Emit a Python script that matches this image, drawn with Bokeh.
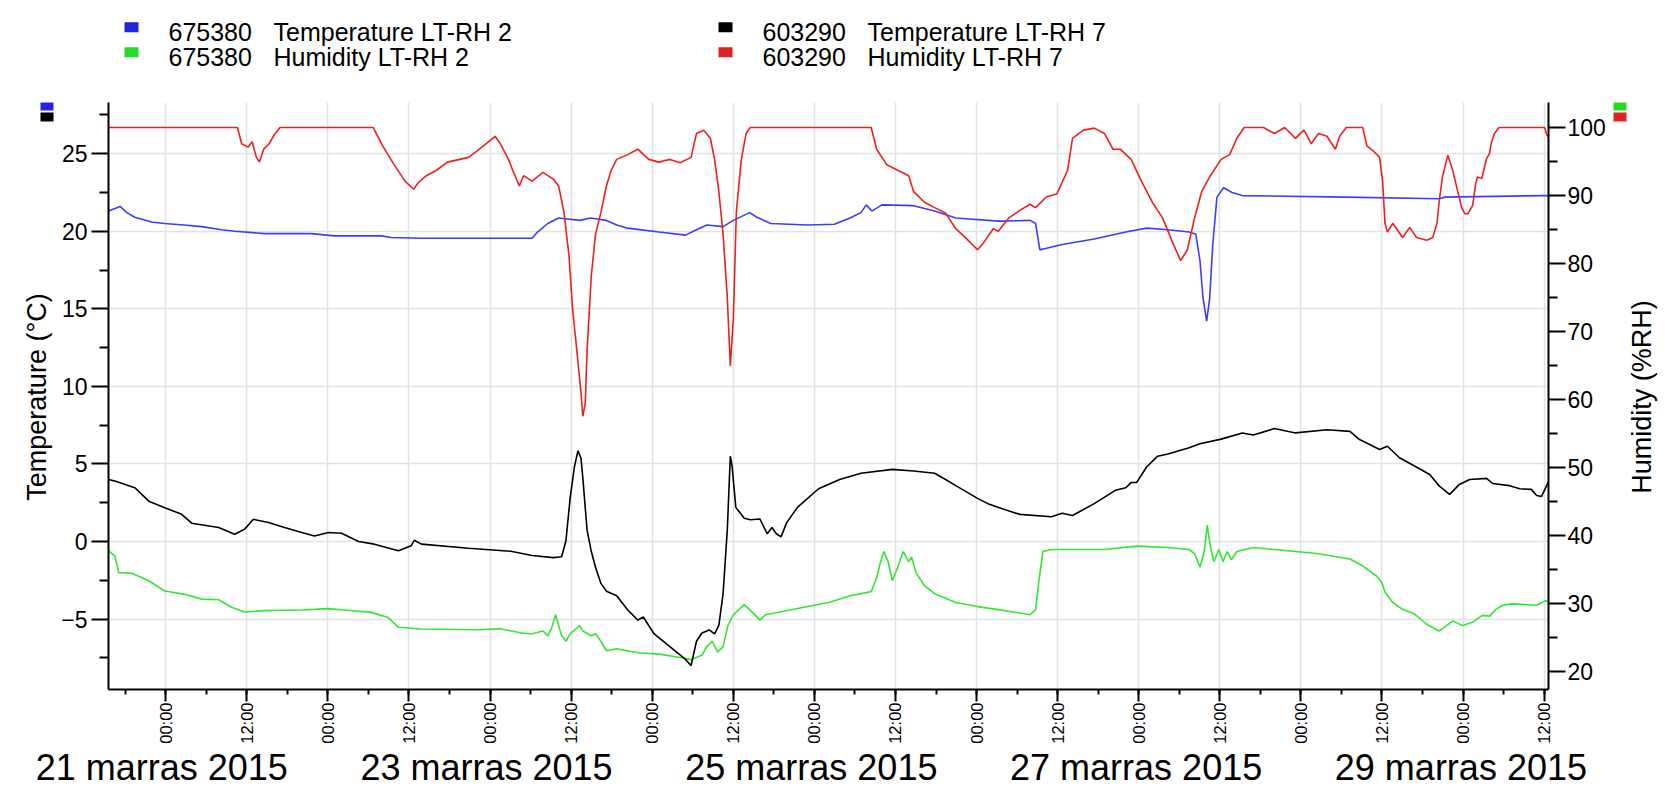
import math
import pandas as pd
from bokeh.plotting import figure
from bokeh.layouts import column, row
from bokeh.models import (Range1d, LinearAxis, FixedTicker, DatetimeTickFormatter,
                          Label, LabelSet, BoxAnnotation, ColumnDataSource)
from bokeh.core.properties import value
from bokeh.embed import file_html
from bokeh.resources import INLINE

# ---------------- data (hours from 21.3.2015 00:00) ----------------
START = pd.Timestamp("2015-03-21 00:00")

TEMP2_HOURS = [
    -8.47, -6.75, -5.76, -4.58, -2.07, -0.15, 2.66, 5.32, 8.28, 10.20,
    14.63, 21.56, 24.96, 31.94, 33.37, 37.84, 49.52, 54.22, 55.02, 56.54,
    58.15, 61.28, 62.89, 65.22, 66.74, 68.35, 73.00, 76.94, 78.55, 80.07,
    82.49, 84.01, 86.42, 87.50, 89.55, 95.01, 98.95, 101.27, 102.88, 103.69,
    104.49, 106.01, 110.67, 113.80, 116.93, 123.19, 127.93, 128.74, 129.37, 130.35,
    132.68, 137.42, 142.07, 145.20, 148.33, 151.46, 152.45, 153.07, 153.52, 154.06,
    154.51, 154.95, 155.58, 156.56, 157.82, 159.34, 174.46, 188.50, 189.31, 204.07,
    204.65]
TEMP2_C = [
    21.3, 21.6, 21.2, 20.9, 20.6, 20.5, 20.4, 20.3, 20.1, 20.0,
    19.85, 19.85, 19.7, 19.7, 19.6, 19.55, 19.55, 19.55, 19.95, 20.5,
    20.85, 20.7, 20.85, 20.7, 20.4, 20.2, 19.95, 19.75, 20.1, 20.4,
    20.3, 20.7, 21.2, 20.9, 20.5, 20.4, 20.45, 20.85, 21.2, 21.7,
    21.3, 21.7, 21.65, 21.3, 20.85, 20.65, 20.7, 20.5, 18.8, 18.9,
    19.15, 19.5, 19.95, 20.2, 20.1, 19.95, 19.8, 18.1, 15.7, 14.2,
    15.7, 19.1, 22.2, 22.8, 22.5, 22.3, 22.2, 22.1, 22.2, 22.3,
    22.3]

TEMP7_HOURS = [
    -8.47, -7.53, -4.58, -2.51, -0.15, 2.36, 3.84, 7.83, 10.20, 11.68,
    12.97, 15.21, 17.58, 20.13, 22.01, 24.07, 26.03, 28.54, 30.87, 34.44,
    36.32, 36.77, 37.84, 44.82, 51.08, 54.22, 57.35, 58.60, 59.23, 59.85,
    60.48, 61.01, 61.46, 61.73, 62.36, 62.98, 63.61, 64.41, 65.22, 66.74,
    68.35, 69.87, 70.68, 72.29, 74.61, 76.94, 77.75, 78.55, 79.36, 80.43,
    81.23, 81.86, 82.49, 83.11, 83.56, 83.83, 84.37, 85.62, 86.51, 87.94,
    89.02, 89.73, 90.36, 91.07, 91.88, 93.49, 96.62, 99.75, 102.88, 107.54,
    110.67, 113.80, 115.41, 116.93, 120.15, 121.67, 124.80, 126.41, 131.07, 132.68,
    134.20, 137.42, 140.55, 142.07, 142.88, 143.68, 145.20, 146.81, 148.33, 151.46,
    153.07, 156.20, 159.34, 160.95, 164.08, 167.21, 171.86, 175.26, 176.69, 179.65,
    180.81, 182.60, 185.55, 187.07, 188.50, 190.02, 191.46, 192.98, 195.48, 196.38,
    198.88, 200.40, 202.10, 202.91, 203.62, 204.34, 204.65]
TEMP7_C = [
    4.0, 3.9, 3.47, 2.6, 2.18, 1.75, 1.18, 0.9, 0.47, 0.8,
    1.43, 1.22, 0.9, 0.58, 0.36, 0.58, 0.53, 0.0, -0.17, -0.6,
    -0.28, 0.08, -0.17, -0.43, -0.63, -0.9, -1.04, -0.98, 0.05, 2.78,
    4.8, 5.85, 5.37, 4.1, 0.73, -0.63, -1.66, -2.7, -3.2, -3.5,
    -4.4, -5.07, -4.87, -5.96, -6.77, -7.6, -8.0, -6.43, -5.9, -5.7,
    -5.96, -5.4, -3.36, 0.73, 5.5, 4.82, 2.2, 1.5, 1.4, 1.45,
    0.5, 0.9, 0.5, 0.3, 1.2, 2.2, 3.4, 4.0, 4.4, 4.65,
    4.55, 4.4, 4.0, 3.6, 2.78, 2.44, 1.96, 1.75, 1.6, 1.82,
    1.68, 2.44, 3.3, 3.46, 3.8, 3.8, 4.82, 5.5, 5.64, 6.05,
    6.3, 6.6, 7.0, 6.87, 7.28, 7.0, 7.2, 7.1, 6.57, 5.93,
    6.14, 5.4, 4.69, 4.32, 3.57, 3.04, 3.68, 4.0, 4.07, 3.74,
    3.6, 3.4, 3.36, 2.97, 2.9, 3.57, 3.9]

HUM2_HOURS = [
    -8.47, -7.53, -6.94, -5.02, -2.51, -0.15, 2.81, 5.32, 7.83, 9.75,
    11.68, 14.63, 20.13, 24.07, 26.48, 30.42, 32.92, 34.44, 37.84, 46.34,
    49.52, 52.65, 54.22, 55.83, 56.54, 57.08, 57.70, 58.15, 58.60, 59.23,
    59.85, 61.28, 61.73, 62.98, 63.61, 64.41, 65.22, 66.74, 69.87, 73.00,
    76.13, 77.75, 79.36, 80.07, 80.88, 81.68, 82.49, 83.20, 84.01, 85.62,
    86.42, 87.94, 88.75, 90.36, 95.01, 98.14, 101.27, 104.41, 105.21, 105.66,
    106.28, 106.91, 107.54, 108.34, 109.15, 109.95, 110.40, 111.03, 112.28, 113.80,
    116.93, 120.15, 123.19, 127.93, 128.74, 129.19, 129.81, 131.07, 138.94, 143.68,
    148.33, 151.46, 152.27, 153.07, 153.70, 154.15, 154.60, 155.13, 155.85, 156.47,
    157.10, 157.73, 158.53, 160.95, 164.08, 167.21, 170.34, 173.47, 175.26, 177.14,
    179.20, 180.00, 180.45, 181.61, 183.05, 184.83, 186.62, 188.41, 189.57, 190.47,
    191.90, 193.42, 194.85, 195.93, 196.91, 197.81, 199.33, 202.91, 204.07, 204.65]
HUM2_RH = [
    37.7, 36.95, 34.5, 34.4, 33.3, 31.8, 31.3, 30.6, 30.5, 29.4,
    28.7, 28.9, 29.0, 29.2, 29.0, 28.65, 27.9, 26.45, 26.2, 26.1,
    26.25, 25.6, 25.5, 25.9, 25.2, 26.25, 28.3, 26.7, 25.2, 24.4,
    25.5, 26.7, 25.9, 25.2, 25.5, 24.4, 23.0, 23.3, 22.7, 22.5,
    22.0, 21.7, 22.35, 23.6, 24.4, 22.8, 23.6, 26.7, 28.3, 29.8,
    29.05, 27.5, 28.3, 28.6, 29.5, 30.1, 31.1, 31.7, 33.7, 35.6,
    37.6, 36.1, 33.3, 35.3, 37.6, 36.1, 36.8, 34.5, 32.6, 31.4,
    30.1, 29.5, 29.05, 28.3, 29.05, 32.9, 37.6, 37.9, 37.9, 38.4,
    38.2, 37.9, 37.3, 35.3, 37.6, 41.5, 38.4, 36.1, 37.9, 36.1,
    37.6, 36.4, 37.6, 38.2, 37.9, 37.6, 37.3, 36.8, 36.5, 35.5,
    34.0, 33.0, 31.6, 30.1, 29.1, 28.4, 26.9, 25.9, 26.7, 27.4,
    26.7, 27.2, 28.2, 28.1, 29.1, 29.7, 29.9, 29.7, 30.3, 30.3]

HUM7_HOURS = [
    -8.47, 10.61, 11.24, 12.17, 12.79, 13.42, 13.87, 14.49, 15.30, 15.92,
    16.91, 30.69, 32.21, 33.82, 35.43, 36.68, 37.31, 38.56, 40.08, 41.69,
    44.82, 46.43, 48.76, 49.52, 50.73, 51.35, 52.34, 52.96, 54.22, 55.83,
    57.35, 58.15, 58.96, 59.67, 60.21, 60.84, 61.46, 61.73, 62.09, 62.36,
    62.98, 63.61, 64.41, 65.22, 65.93, 66.74, 68.35, 69.87, 71.48, 73.00,
    74.61, 76.13, 77.75, 78.55, 79.62, 80.61, 81.23, 81.86, 82.49, 83.11,
    83.56, 84.01, 84.45, 85.17, 85.89, 86.51, 104.41, 105.21, 106.73, 108.34,
    109.95, 110.67, 112.28, 113.80, 115.41, 116.93, 118.54, 120.15, 120.87, 122.48,
    123.19, 124.80, 126.41, 127.93, 128.74, 130.35, 131.87, 133.48, 134.20, 135.81,
    137.42, 138.94, 140.19, 141.27, 142.88, 144.40, 146.01, 147.53, 149.14, 150.21,
    151.20, 152.27, 153.34, 154.60, 156.20, 157.46, 158.53, 159.61, 162.47, 164.08,
    165.60, 167.21, 168.46, 169.54, 170.61, 171.86, 173.11, 173.74, 174.72, 177.14,
    177.77, 178.66, 179.65, 180.09, 180.45, 180.81, 181.61, 183.05, 184.12, 185.10,
    186.62, 187.52, 188.14, 188.50, 188.95, 189.75, 190.47, 191.19, 191.81, 192.26,
    192.71, 193.42, 193.87, 194.14, 194.77, 195.48, 195.93, 196.20, 196.64, 197.36,
    204.07, 204.34, 204.65]
HUM7_RH = [
    100, 100, 97.6, 97.1, 97.9, 95.6, 94.9, 96.8, 97.6, 98.7,
    100, 100, 97.1, 94.5, 92.1, 90.9, 91.8, 92.9, 93.7, 94.9,
    95.6, 96.8, 98.7, 97.6, 95.3, 93.7, 91.4, 92.9, 92.1, 93.4,
    92.4, 91.4, 87.4, 81.2, 73.4, 67.2, 61.0, 57.5, 59.4, 67.2,
    78.1, 84.3, 87.5, 91.4, 93.7, 95.3, 96.0, 96.8, 95.3, 94.9,
    95.3, 94.8, 95.6, 99.1, 99.6, 98.4, 95.3, 90.6, 84.3, 75.0,
    64.9, 71.9, 87.5, 95.2, 99.1, 100, 100, 96.8, 94.5, 93.7,
    92.9, 90.6, 89.0, 88.2, 87.4, 85.1, 83.6, 82.0, 82.8, 85.1,
    84.7, 86.7, 87.8, 88.7, 88.2, 89.8, 90.2, 93.7, 98.4, 99.6,
    99.9, 99.1, 96.8, 96.8, 95.3, 92.1, 89.0, 86.7, 82.8, 80.4,
    82.0, 86.7, 90.6, 92.9, 95.3, 96.0, 98.4, 100, 100, 99.1,
    100, 98.4, 99.6, 97.6, 99.1, 98.7, 96.8, 98.7, 100, 100,
    97.3, 96.6, 95.6, 92.2, 85.9, 84.6, 85.9, 83.8, 85.3, 83.8,
    83.4, 83.8, 85.9, 89.3, 92.7, 95.9, 93.7, 90.7, 88.2, 87.3,
    87.3, 88.5, 91.7, 92.7, 92.5, 95.4, 96.2, 97.8, 99.1, 100,
    100, 99.1, 98.5]

SERIES_IDS = ["675380", "675380", "603290", "603290"]
SERIES_NAMES = ["Temperature LT-RH 2", "Humidity LT-RH 2",
                "Temperature LT-RH 7", "Humidity LT-RH 7"]
KEY_COLORS = ["#2424dc", "#22dd22", "#000000", "#dd2222"]
LINE_COLORS = ["#3c3cff", "#33e633", "#000000", "#ec2020"]

TEMP_TICKS = [-5, 0, 5, 10, 15, 20, 25]
TEMP_MINOR = [-7.5, -2.5, 2.5, 7.5, 12.5, 17.5, 22.5, 27.5]
HUM_TICKS = [20, 30, 40, 50, 60, 70, 80, 90, 100]
HUM_MINOR = [25, 35, 45, 55, 65, 75, 85, 95]
DATE_LABEL_DAYS = [21, 23, 25, 27, 29]
MONTH_WORD = "marras"
YEAR = 2015
TEMP_LABEL = "Temperature (°C)"
HUM_LABEL = "Humidity (%RH)"

X_START_H, X_END_H = -8.47, 204.65
TEMP_RANGE = (-9.54, 28.3)
HUM_RANGE = (17.3, 103.67)

# ---------------- helpers ----------------
def to_dt(hours):
    return [(START + pd.Timedelta(hours=float(h))).to_pydatetime() for h in hours]

def to_ms(h):
    return (START + pd.Timedelta(hours=float(h)) - pd.Timestamp("1970-01-01")) / pd.Timedelta(milliseconds=1)

FONT = "Liberation Sans"
W = 1665
TOP_H, MID_H, BOT_H = 100, 646, 41          # 787 in total
LEFT_W, RIGHT_W = 58, 57
MAIN_W = W - LEFT_W - RIGHT_W              # 1550
FRAME_L, FRAME_R = 107, 1549               # page x of plot frame
FRAME_T, FRAME_B = 102, 691                # page y of plot frame
MID_TOP = TOP_H
MID_BOT = TOP_H + MID_H

def strip(width, height, x_range=None):
    f = figure(width=width, height=height, x_axis_type=None, y_axis_type=None,
               x_range=x_range if x_range is not None else Range1d(0, 1),
               y_range=Range1d(0, 1), title=None,
               output_backend="svg", toolbar_location=None, min_border=0)
    f.outline_line_color = None
    f.background_fill_color = "white"
    f.border_fill_color = "white"
    return f

def key_box(fig, left, right, top, bottom, color):
    fig.add_layout(BoxAnnotation(left=left, right=right, top=top, bottom=bottom,
                                 left_units="screen", right_units="screen",
                                 top_units="screen", bottom_units="screen",
                                 fill_color=color, fill_alpha=1.0, line_color=None))

# ---------------- main plot ----------------
p = figure(width=MAIN_W, height=MID_H, x_axis_type="datetime",
           x_range=Range1d(to_dt([X_START_H])[0], to_dt([X_END_H])[0]),
           y_range=Range1d(*TEMP_RANGE), title=None,
           output_backend="svg", toolbar_location=None,
           min_border_left=FRAME_L - LEFT_W, min_border_right=LEFT_W + MAIN_W - FRAME_R,
           min_border_top=FRAME_T - MID_TOP, min_border_bottom=MID_BOT - FRAME_B)
p.extra_y_ranges = {"hum": Range1d(*HUM_RANGE)}
p.outline_line_color = None
p.background_fill_color = "white"
p.border_fill_color = "white"

xticker = FixedTicker(ticks=[to_ms(h) for h in range(0, 205, 12)],
                      minor_ticks=[to_ms(h) for h in range(-6, 205, 6)])
fmt = "%H:%M"
xaxis = p.xaxis[0]
xaxis.ticker = xticker
xaxis.formatter = DatetimeTickFormatter(microseconds=fmt, milliseconds=fmt, seconds=fmt,
                                        minsec=fmt, minutes=fmt, hourmin=fmt, hours=fmt,
                                        days=fmt, months=fmt, years=fmt)
xaxis.major_label_orientation = math.pi / 2
xaxis.major_label_text_font_size = "16.5px"
xaxis.major_label_standoff = 1
xaxis.major_tick_out = 12
xaxis.minor_tick_out = 5

laxis = p.yaxis[0]
lticker = FixedTicker(ticks=TEMP_TICKS, minor_ticks=TEMP_MINOR)
laxis.ticker = lticker
laxis.major_label_standoff = 4

raxis = LinearAxis(y_range_name="hum", ticker=FixedTicker(ticks=HUM_TICKS, minor_ticks=HUM_MINOR))
p.add_layout(raxis, "right")
raxis.major_label_standoff = 2

for ax in (laxis, raxis):
    ax.major_tick_out = 17
    ax.minor_tick_out = 9
    ax.major_label_text_font_size = "23px"

for ax in (xaxis, laxis, raxis):
    ax.major_tick_in = 0
    ax.minor_tick_in = 0
    ax.major_label_text_font = FONT
    ax.major_label_text_color = "#000000"
    ax.axis_line_width = 2
    ax.axis_line_color = "#000000"
    ax.major_tick_line_width = 2
    ax.minor_tick_line_width = 2
    ax.major_tick_line_color = "#000000"
    ax.minor_tick_line_color = "#000000"

p.xgrid.ticker = xticker
p.ygrid.ticker = lticker
p.grid.grid_line_color = "#e2e2e2"
p.grid.grid_line_width = 1.5

p.line(to_dt(TEMP2_HOURS), TEMP2_C, line_color=LINE_COLORS[0], line_width=1.6)
p.line(to_dt(HUM2_HOURS), HUM2_RH, line_color=LINE_COLORS[1], line_width=1.6, y_range_name="hum")
p.line(to_dt(TEMP7_HOURS), TEMP7_C, line_color=LINE_COLORS[2], line_width=1.6)
p.line(to_dt(HUM7_HOURS), HUM7_RH, line_color=LINE_COLORS[3], line_width=1.6, y_range_name="hum")

# ---------------- top strip: legend ----------------
top = strip(W, TOP_H)
col_x = [124, 124, 718, 718]
row_base = [31.7, 56.7, 31.7, 56.7]
for i in range(4):
    x0, yb = col_x[i], row_base[i]
    key_box(top, x0, x0 + 14, TOP_H - (yb - 10), TOP_H - yb, KEY_COLORS[i])
    top.add_layout(Label(x=x0 + 44, y=TOP_H - yb, x_units="screen", y_units="screen",
                         text=SERIES_IDS[i], text_font=FONT, text_font_size="25px",
                         text_baseline="alphabetic", text_color="#000000"))
    top.add_layout(Label(x=x0 + 149, y=TOP_H - yb, x_units="screen", y_units="screen",
                         text=SERIES_NAMES[i], text_font=FONT, text_font_size="25px",
                         text_baseline="alphabetic", text_color="#000000"))

# ---------------- side strips: axis titles and colour keys ----------------
# strips in the same row share the main plot's frame top/bottom, so their
# screen y is measured from the plot frame bottom (page y = FRAME_B)
def sy(page_y):
    return FRAME_B - page_y

left = strip(LEFT_W, MID_H)
key_box(left, 40, 53, sy(103), sy(112), KEY_COLORS[0])
key_box(left, 40, 53, sy(114), sy(123), KEY_COLORS[2])
left.add_layout(Label(x=36, y=sy(398.5), x_units="screen", y_units="screen",
                      text=TEMP_LABEL, angle=math.pi / 2, text_align="center",
                      text_baseline="middle", text_font=FONT, text_font_size="27px",
                      text_color="#000000"))

right = strip(RIGHT_W, MID_H)
rx0 = LEFT_W + MAIN_W
key_box(right, 1613 - rx0, 1626 - rx0, sy(103), sy(112), KEY_COLORS[1])
key_box(right, 1613 - rx0, 1626 - rx0, sy(114), sy(123), KEY_COLORS[3])
right.add_layout(Label(x=1641 - rx0, y=sy(398.5), x_units="screen", y_units="screen",
                       text=HUM_LABEL, angle=math.pi / 2, text_align="center",
                       text_baseline="middle", text_font=FONT, text_font_size="27px",
                       text_color="#000000"))

# ---------------- bottom strip: date labels on the same time scale ----------------
xs_ms, xe_ms = to_ms(X_START_H), to_ms(X_END_H)
k = (xe_ms - xs_ms) / (FRAME_R - FRAME_L)
bottom = strip(W, BOT_H, x_range=Range1d(xs_ms - FRAME_L * k, xe_ms + (W - FRAME_R) * k))
date_src = ColumnDataSource(dict(
    x=[to_ms((d - DATE_LABEL_DAYS[0]) * 24) for d in DATE_LABEL_DAYS],
    text=[f"{d} {MONTH_WORD} {YEAR}" for d in DATE_LABEL_DAYS]))
bottom.add_layout(LabelSet(x="x", y=8, y_units="screen", text="text", source=date_src,
                           x_offset=-3, text_align="center", text_baseline="alphabetic",
                           text_font=value(FONT), text_font_size="36px", text_color="#000000"))

layout = column(top, row(left, p, right), bottom)
open("out.html", "w").write(file_html(layout, INLINE, title="LT-RH"))
